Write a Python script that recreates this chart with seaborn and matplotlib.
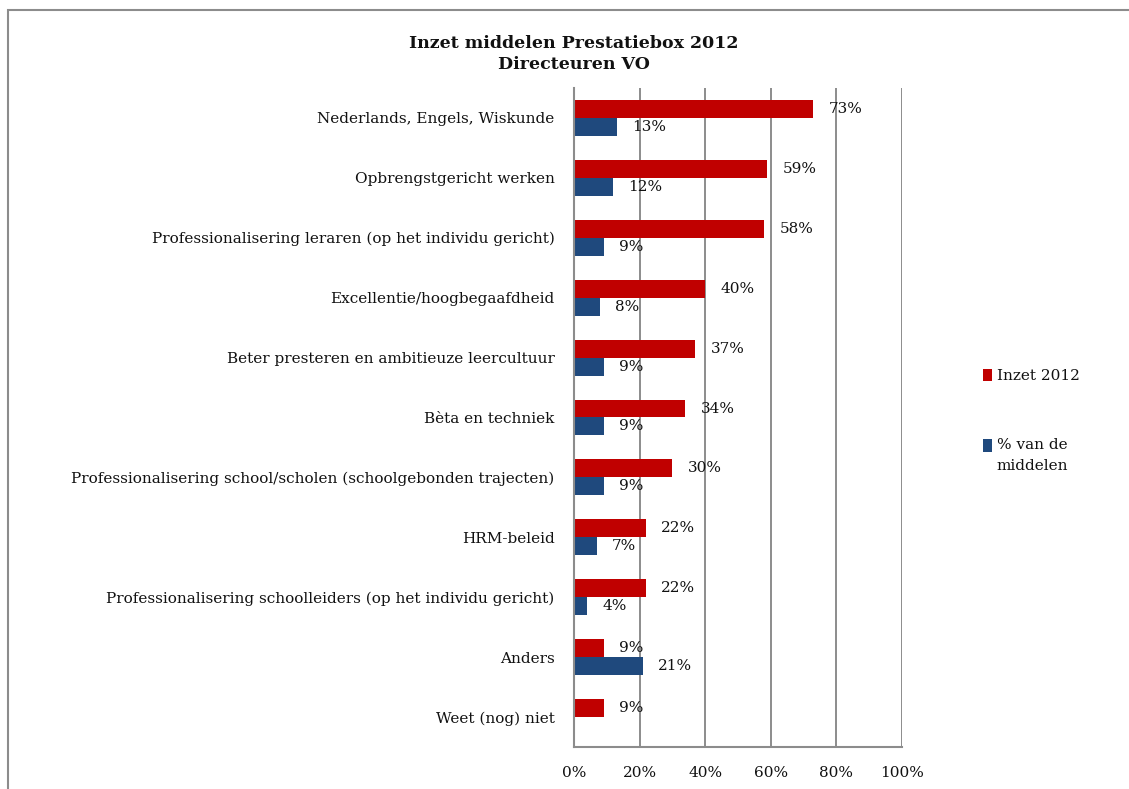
import numpy as np
import pandas as pd
import matplotlib
matplotlib.use("Agg")
import matplotlib.pyplot as plt
import seaborn as sns
from matplotlib.patches import Rectangle

categorieen = [
    "Nederlands, Engels, Wiskunde",
    "Opbrengstgericht werken",
    "Professionalisering leraren (op het individu gericht)",
    "Excellentie/hoogbegaafdheid",
    "Beter presteren en ambitieuze leercultuur",
    "Bèta en techniek",
    "Professionalisering school/scholen (schoolgebonden trajecten)",
    "HRM-beleid",
    "Professionalisering schoolleiders (op het individu gericht)",
    "Anders",
    "Weet (nog) niet",
]
inzet_2012 = [73, 59, 58, 40, 37, 34, 30, 22, 22, 9, 9]
middelen = [13, 12, 9, 8, 9, 9, 9, 7, 4, 21, np.nan]
reeksen = ["Inzet 2012", "% van de\nmiddelen"]
kleuren = ["#C00000", "#1F497D"]
x_ticks = [0, 20, 40, 60, 80, 100]

df = pd.DataFrame({
    "categorie": categorieen * 2,
    "waarde": inzet_2012 + middelen,
    "reeks": [reeksen[0]] * len(categorieen) + [reeksen[1]] * len(categorieen),
})

sns.set_style("white")
plt.rcParams["font.family"] = ["DejaVu Serif"]
fs = 11

fig = plt.figure(figsize=(11.29, 7.89), dpi=100)
ax = fig.add_axes([0.5084, 0.0532, 0.2905, 0.8353])

sns.barplot(data=df, x="waarde", y="categorie", hue="reeks", hue_order=reeksen,
            palette=kleuren, orient="h", width=0.6, ax=ax, errorbar=None,
            saturation=1, linewidth=0)

for cont in ax.containers:
    labels = ["" if np.isnan(v) else f"{v:.0f}%" for v in cont.datavalues]
    ax.bar_label(cont, labels=labels, padding=11, fontsize=fs, color="#111111")

ax.set_xlim(0, 100)
ax.set_xticks(x_ticks)
ax.set_xticklabels([f"{t}%" for t in x_ticks], fontsize=fs, color="#111111")
ax.tick_params(axis="x", length=0, pad=14)
ax.tick_params(axis="y", length=0, pad=14, labelsize=fs, labelcolor="#111111")
ax.set_xlabel("")
ax.set_ylabel("")
ax.grid(axis="x", color="#8c8c8c", linewidth=1.4)
ax.set_axisbelow(True)
for s in ["top", "right"]:
    ax.spines[s].set_visible(False)
for s in ["left", "bottom"]:
    ax.spines[s].set_color("#8c8c8c")
    ax.spines[s].set_linewidth(1.5)

leg = ax.legend(loc="upper left", bbox_to_anchor=(1.205, 0.595), frameon=False,
                fontsize=fs, handlelength=0.6, handleheight=0.9,
                handletextpad=0.3, labelspacing=3.6)
for t in leg.get_texts():
    t.set_linespacing(1.6)
    t.set_color("#111111")
# marker of the two-line entry next to its first line
h2 = leg.legend_handles[1]
h2.set_y(h2.get_y() + 7.5)

fig.text(0.508, 0.932, "Inzet middelen Prestatiebox 2012\nDirecteuren VO",
         ha="center", va="center", fontsize=12.5, fontweight="bold",
         linespacing=1.3, color="#111111")

fig.patches.append(Rectangle((8 / 1129, -0.1), 1.2, 1.1 - 10 / 789,
                             transform=fig.transFigure, fill=False,
                             edgecolor="#8c8c8c", linewidth=1.5))

fig.savefig("out.png", dpi=100)
